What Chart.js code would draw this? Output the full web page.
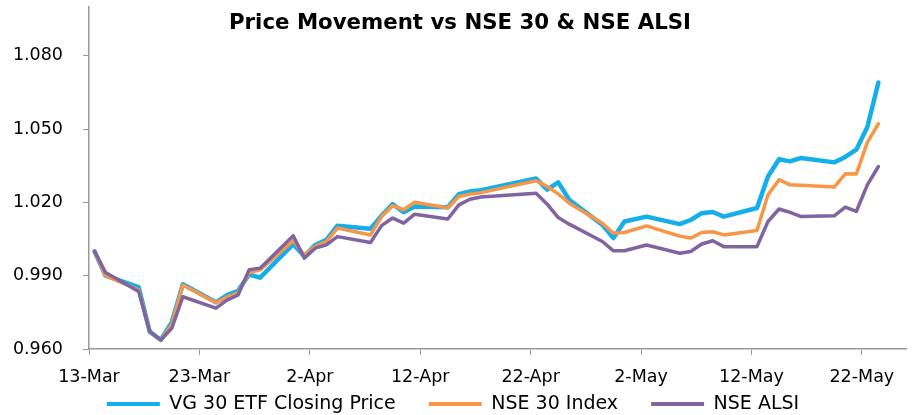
<!DOCTYPE html>
<html>
<head>
<meta charset="utf-8">
<script src="https://cdn.jsdelivr.net/npm/chart.js@4.4.1/dist/chart.umd.min.js"></script>
<style>
  html, body { margin: 0; padding: 0; background: #ffffff; }
  #wrap { width: 919px; height: 415px; position: relative; }
</style>
</head>
<body>
<div id="wrap"><canvas id="c" width="919" height="415"></canvas></div>
<script>
// ---- data ----
const chartTitle = 'Price Movement vs NSE 30 & NSE ALSI';
const seriesNames = ['VG 30 ETF Closing Price', 'NSE 30 Index', 'NSE ALSI'];

const dates = [
  '2014-03-13','2014-03-14','2014-03-17','2014-03-18','2014-03-19','2014-03-20','2014-03-21',
  '2014-03-24','2014-03-25','2014-03-26','2014-03-27','2014-03-28','2014-03-31',
  '2014-04-01','2014-04-02','2014-04-03','2014-04-04','2014-04-07','2014-04-08','2014-04-09',
  '2014-04-10','2014-04-11','2014-04-14','2014-04-15','2014-04-16','2014-04-17',
  '2014-04-22','2014-04-23','2014-04-24','2014-04-25','2014-04-28','2014-04-29','2014-04-30',
  '2014-05-02','2014-05-05','2014-05-06','2014-05-07','2014-05-08','2014-05-09',
  '2014-05-12','2014-05-13','2014-05-14','2014-05-15','2014-05-16',
  '2014-05-19','2014-05-20','2014-05-21','2014-05-22','2014-05-23'
];

const vg30 = [
  1.000, 0.990, 0.9853, 0.9671, 0.9637, 0.971, 0.9865,
  0.9791, 0.9821, 0.9838, 0.9905, 0.9892, 1.0029,
  0.998, 1.0026, 1.0047, 1.0105, 1.0092, 1.0146, 1.0193,
  1.016, 1.0183, 1.018, 1.0234, 1.0245, 1.025,
  1.0298, 1.0252, 1.0282, 1.0211, 1.0108, 1.0054, 1.0122,
  1.0142, 1.0111, 1.0128, 1.0156, 1.0161, 1.0142,
  1.0177, 1.0306, 1.0377, 1.0368, 1.0382,
  1.0364, 1.0386, 1.0416, 1.0509, 1.0691
];

const nse30 = [
  1.000, 0.990, 0.9842, 0.9671, 0.9637, 0.970, 0.9862,
  0.979, 0.9812, 0.983, 0.9912, 0.9924, 1.0043,
  0.9985, 1.002, 1.004, 1.0095, 1.0067, 1.0142, 1.0187,
  1.017, 1.0201, 1.0177, 1.0224, 1.0234, 1.024,
  1.0289, 1.0265, 1.0235, 1.0197, 1.0115, 1.0074, 1.0077,
  1.0104, 1.0062, 1.0054, 1.0077, 1.008, 1.0067,
  1.0085, 1.0231, 1.0293, 1.0272, 1.027,
  1.0263, 1.0317, 1.0316, 1.0446, 1.0522
];

const nseAlsi = [
  1.000, 0.9913, 0.9835, 0.9671, 0.9637, 0.9685, 0.9814,
  0.9767, 0.980, 0.9821, 0.9924, 0.9931, 1.0064,
  0.9972, 1.0013, 1.0026, 1.006, 1.0036, 1.0105, 1.0136,
  1.0115, 1.0152, 1.0132, 1.019, 1.0213, 1.0222,
  1.0238, 1.0193, 1.0138, 1.0111, 1.004, 1.0002, 1.0002,
  1.0026, 0.9992, 0.9999, 1.003, 1.0043, 1.0019,
  1.0019, 1.0122, 1.0173, 1.0159, 1.0142,
  1.0145, 1.0181, 1.0163, 1.0272, 1.0347
];

const xTickDates = ['2014-03-13','2014-03-23','2014-04-02','2014-04-12','2014-04-22','2014-05-02','2014-05-12','2014-05-22'];
const xTickLabels = ['13-Mar','23-Mar','2-Apr','12-Apr','22-Apr','2-May','12-May','22-May'];
const yTickValues = [0.960, 0.990, 1.020, 1.050, 1.080];

// ---- helpers ----
const startDate = dates[0];
function dayOf(iso) {
  const a = new Date(iso + 'T00:00:00Z'), b = new Date(startDate + 'T00:00:00Z');
  return Math.round((a - b) / 86400000);
}
// Each date occupies one day slot; the point sits in the middle of its slot.
function toPoints(values) {
  return values.map((v, i) => ({ x: dayOf(dates[i]) + 0.5, y: v }));
}
const xTickDays = xTickDates.map(dayOf);

const COLORS = ['#14AEEB', '#F79646', '#8064A2'];
const AXIS = '#9a9a9a';
const FONT = '"DejaVu Sans", Verdana, sans-serif';
const LEGEND_PAD = 33;
const LEGEND_FONT = 19;
const LEGEND_CENTER_Y = 404;

const titlePlugin = {
  id: 'overlayTitle',
  afterDraw(chart) {
    const ctx = chart.ctx;
    ctx.save();
    ctx.font = 'bold 21.3px ' + FONT;
    ctx.fillStyle = '#000000';
    ctx.textAlign = 'center';
    ctx.textBaseline = 'middle';
    ctx.fillText(chartTitle, 460, 23);
    ctx.restore();
  }
};

// keep the legend compact in the layout and put its row where the reference has it
const legendPlacer = {
  id: 'legendPlacer',
  beforeUpdate(chart) {
    const leg = chart.legend;
    if (leg && !leg._patched) {
      const origFit = leg.fit.bind(leg);
      leg.fit = function () { origFit(); this.height = 28; };
      leg._patched = true;
    }
  },
  afterLayout(chart) {
    const leg = chart.legend;
    if (!leg) return;
    const top = LEGEND_CENTER_Y - LEGEND_PAD - LEGEND_FONT / 2;
    leg.top = top;
    leg.bottom = chart.height;
    leg.height = chart.height - top;
  }
};

new Chart(document.getElementById('c'), {
  type: 'line',
  data: {
    datasets: [
      { label: seriesNames[0], data: toPoints(vg30), borderColor: COLORS[0], backgroundColor: COLORS[0], borderWidth: 4.5, order: 2 },
      { label: seriesNames[1], data: toPoints(nse30), borderColor: COLORS[1], backgroundColor: COLORS[1], borderWidth: 3.5, order: 1 },
      { label: seriesNames[2], data: toPoints(nseAlsi), borderColor: COLORS[2], backgroundColor: COLORS[2], borderWidth: 3.5, order: 0 }
    ]
  },
  options: {
    responsive: false,
    animation: false,
    devicePixelRatio: 1,
    layout: { padding: { left: 0, right: 13, top: 7, bottom: 0 } },
    elements: { point: { radius: 0, hoverRadius: 0 }, line: { tension: 0, borderJoinStyle: 'round', borderCapStyle: 'round' } },
    plugins: {
      tooltip: { enabled: false },
      title: { display: false },
      legend: {
        position: 'bottom',
        labels: {
          boxWidth: 53,
          boxHeight: 4,
          padding: LEGEND_PAD,
          color: '#000000',
          font: { family: FONT, size: LEGEND_FONT },
          sort: (a, b) => a.datasetIndex - b.datasetIndex,
          generateLabels(chart) {
            return Chart.defaults.plugins.legend.labels.generateLabels(chart).map(it => Object.assign(it, { lineWidth: 0 }));
          }
        }
      }
    },
    scales: {
      x: {
        type: 'linear',
        min: 0,
        max: 74,
        afterBuildTicks(scale) { scale.ticks = xTickDays.map(v => ({ value: v })); },
        afterFit(scale) { scale.height = 38; scale.paddingLeft = 0; scale.paddingRight = 0; },
        ticks: {
          autoSkip: false,
          maxRotation: 0,
          padding: 12,
          color: '#000000',
          font: { family: FONT, size: 17.5 },
          callback(value) { const i = xTickDays.indexOf(value); return i >= 0 ? xTickLabels[i] : ''; }
        },
        grid: { display: true, drawOnChartArea: false, drawTicks: true, tickLength: 6, color: AXIS },
        border: { display: true, color: AXIS, width: 1.5 }
      },
      y: {
        type: 'linear',
        min: 0.96,
        max: 1.10,
        afterBuildTicks(scale) { scale.ticks = yTickValues.map(v => ({ value: v })); },
        afterFit(scale) { scale.width = 89; scale.paddingTop = 0; scale.paddingBottom = 0; },
        ticks: {
          padding: 20,
          color: '#000000',
          font: { family: FONT, size: 17.5 },
          callback(value) { return Number(value).toFixed(3); }
        },
        grid: { display: true, drawOnChartArea: false, drawTicks: true, tickLength: 6, color: AXIS },
        border: { display: true, color: AXIS, width: 1.5 }
      }
    }
  },
  plugins: [titlePlugin, legendPlacer]
});
</script>
</body>
</html>
